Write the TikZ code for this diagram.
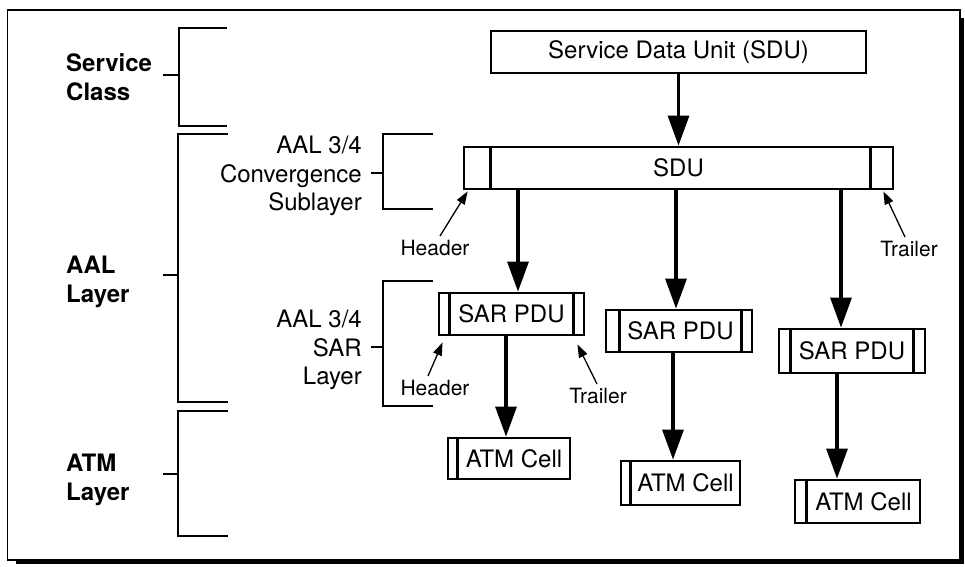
\documentclass[tikz,border=0pt]{standalone}
\usepackage{fontspec}
\setmainfont{TeX Gyre Heros}
\usetikzlibrary{arrows.meta}
\begin{document}
\begin{tikzpicture}[x=1pt,y=-1pt,
  box/.style={draw,line width=2.8pt,inner sep=0pt,font=\fontsize{24}{29}\selectfont},
  divider/.style={line width=2.6pt},
  bigarr/.style={line width=3.2pt,-{Triangle[length=30pt,width=21pt]}},
  smallarr/.style={line width=1.3pt,-{Triangle[length=13pt,width=9pt]}},
  brk/.style={line width=2.6pt},
  lbl/.style={font=\fontsize{24}{28.5}\selectfont,inner sep=0pt,align=right,anchor=east},
  blbl/.style={font=\bfseries\fontsize{24}{29}\selectfont,inner sep=0pt,align=left,anchor=west},
  small/.style={font=\fontsize{21}{25}\selectfont,inner sep=0pt}]
\useasboundingbox (0,0) rectangle (965,566);
% frame with shadow
\draw[line width=1.8pt] (7.5,10) rectangle (960,560);
\draw[line width=3pt] (16,562.5) -- (962.5,562.5) -- (962.5,18);

% left brackets
\draw[brk] (227,28) -- (179,28) -- (179,126) -- (227,126);
\draw[brk] (163,75) -- (179,75);
\draw[brk] (228,134) -- (178,134) -- (178,402) -- (228,402);
\draw[brk] (163,275) -- (178,275);
\draw[brk] (228,411) -- (178,411) -- (178,536) -- (228,536);
\draw[brk] (163,474) -- (178,474);
% sublayer brackets
\draw[brk] (433,134) -- (383,134) -- (383,209) -- (433,209);
\draw[brk] (371,173) -- (383,173);
\draw[brk] (433,281) -- (383,281) -- (383,406) -- (433,406);
\draw[brk] (371,347) -- (383,347);

% layer labels
\node[blbl] (sc) at (66,77) {Service\\Class};
\node[blbl] (aal) at (66,282) {AAL\\Layer};
\node[blbl] (atm) at (66,480) {ATM\\Layer};
\node[lbl] (cs) at (362,176) {AAL 3/4\\Convergence\\Sublayer};
\node[lbl] (sarl) at (362,350) {AAL 3/4\\SAR\\Layer};

% boxes
\node[box,minimum width=375pt,minimum height=42pt] (top) at (678.5,52) {Service Data Unit (SDU)};
\node[box,minimum width=429pt,minimum height=42pt] (sdu) at (678.5,168) {SDU};
\draw[divider] ([xshift=28pt]sdu.north west) -- ([xshift=28pt]sdu.south west);
\draw[divider] ([xshift=-24pt]sdu.north east) -- ([xshift=-24pt]sdu.south east);

\node[box,minimum width=145pt,minimum height=42pt] (sar1) at (511.5,314) {SAR PDU};
\draw[divider] ([xshift=12pt]sar1.north west) -- ([xshift=12pt]sar1.south west);
\draw[divider] ([xshift=-12pt]sar1.north east) -- ([xshift=-12pt]sar1.south east);
\node[box,minimum width=146pt,minimum height=42pt] (sar2) at (679,331) {\hspace*{3pt}SAR PDU};
\draw[divider] ([xshift=15pt]sar2.north west) -- ([xshift=15pt]sar2.south west);
\draw[divider] ([xshift=-12pt]sar2.north east) -- ([xshift=-12pt]sar2.south east);
\node[box,minimum width=146pt,minimum height=44pt] (sar3) at (852,351) {SAR PDU};
\draw[divider] ([xshift=13pt]sar3.north west) -- ([xshift=13pt]sar3.south west);
\draw[divider] ([xshift=-13pt]sar3.north east) -- ([xshift=-13pt]sar3.south east);

\node[box,minimum width=122pt,minimum height=41pt] (atm1) at (509,458.5) {\hspace*{10pt}ATM Cell};
\draw[divider] ([xshift=11pt]atm1.north west) -- ([xshift=11pt]atm1.south west);
\node[box,minimum width=119pt,minimum height=44pt] (atm2) at (680.5,483) {\hspace*{10pt}ATM Cell};
\draw[divider] ([xshift=11pt]atm2.north west) -- ([xshift=11pt]atm2.south west);
\node[box,minimum width=125pt,minimum height=43pt] (atm3) at (857.5,501.5) {\hspace*{12pt}ATM Cell};
\draw[divider] ([xshift=13pt]atm3.north west) -- ([xshift=13pt]atm3.south west);

% arrow columns
\coordinate (c1) at (518,0);
\coordinate (c2) at (676,0);
\coordinate (c3) at (841,0);
\coordinate (d1) at (506,0);
\coordinate (d2) at (673,0);
\coordinate (d3) at (837,0);
\draw[bigarr] (top.south) -- (sdu.north);
\draw[bigarr] (sdu.south -| c1) -- (sar1.north -| c1);
\draw[bigarr] (sdu.south -| c2) -- (sar2.north -| c2);
\draw[bigarr] (sdu.south -| c3) -- (sar3.north -| c3);
\draw[bigarr] (sar1.south -| d1) -- (atm1.north -| d1);
\draw[bigarr] (sar2.south -| d2) -- (atm2.north -| d2);
\draw[bigarr] (sar3.south -| d3) -- (atm3.north -| d3);

% header / trailer labels
\node[small] (h1) at (435,248) {Header};
\node[small] (t1) at (909,249) {Trailer};
\node[small] (h2) at (435,388) {Header};
\node[small] (t2) at (598,396) {Trailer};
\coordinate (h1tail) at (440,236);
\coordinate (t1tail) at (905,237);
\coordinate (h2tail) at (428,376);
\coordinate (t2tail) at (597,384);
\draw[smallarr] (h1tail) -- ([shift={(5,1)}]sdu.south west);
\draw[smallarr] (t1tail) -- ([shift={(-11,1)}]sdu.south east);
\draw[smallarr] (h2tail) -- ([shift={(5,6)}]sar1.south west);
\draw[smallarr] (t2tail) -- ([shift={(-8,8)}]sar1.south east);
\end{tikzpicture}
\end{document}
